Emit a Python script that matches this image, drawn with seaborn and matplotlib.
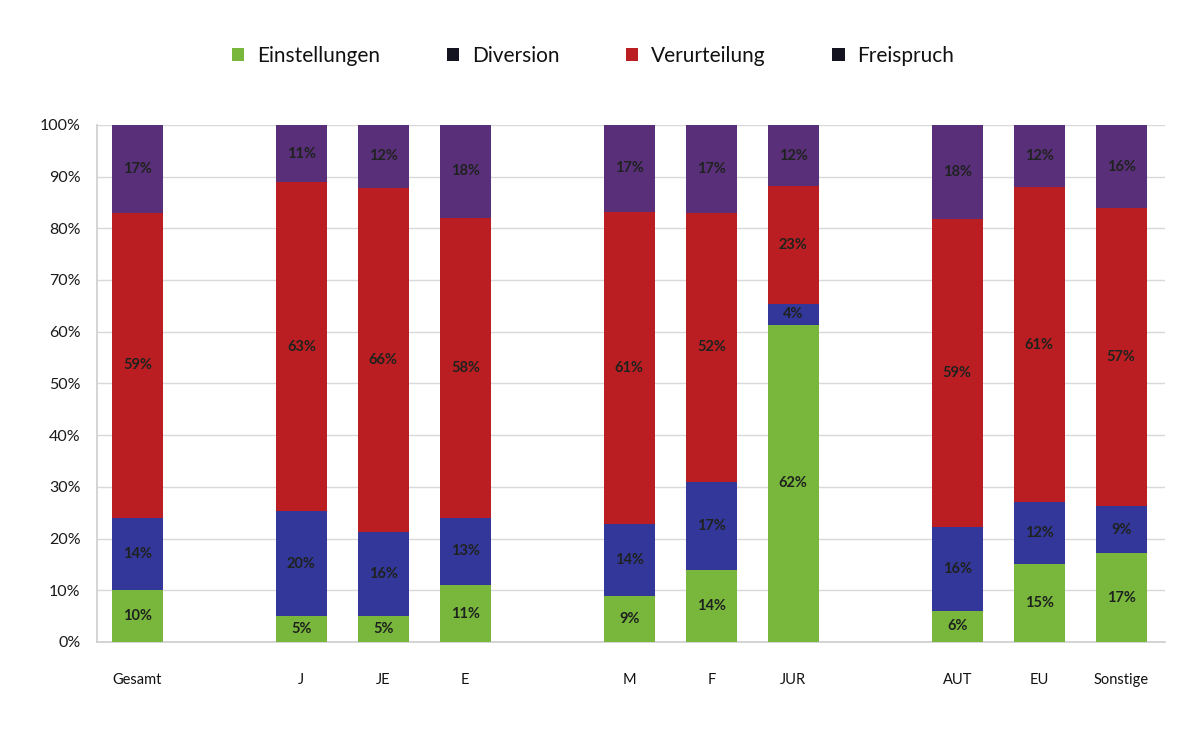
import numpy as np
import pandas as pd
import matplotlib
matplotlib.use("Agg")
import matplotlib.pyplot as plt
import seaborn as sns
from matplotlib.patches import Patch

# ---- data ----
categories = ["Gesamt", " ", "J", "JE", "E", "  ", "M", "F", "JUR", "   ", "AUT", "EU", "Sonstige"]
groups = ["Gesamt", "J", "JE", "E", "M", "F", "JUR", "AUT", "EU", "Sonstige"]
einstellungen = [10, 5, 5, 11, 9, 14, 62, 6, 15, 17]
diversion = [14, 20, 16, 13, 14, 17, 4, 16, 12, 9]
verurteilung = [59, 63, 66, 58, 61, 52, 23, 59, 61, 57]
freispruch = [17, 11, 12, 18, 17, 17, 12, 18, 12, 16]
series_names = ["Einstellungen", "Diversion", "Verurteilung", "Freispruch"]
tick_labels = ["0%", "10%", "20%", "30%", "40%", "50%", "60%", "70%", "80%", "90%", "100%"]

colors = ["#78b73c", "#34379a", "#bb1e22", "#5a2f7a"]
legend_colors = ["#78b73c", "#141420", "#bb1e22", "#141420"]

vals = np.array([einstellungen, diversion, verurteilung, freispruch], dtype=float)
shares = vals / vals.sum(axis=0) * 100
cum = np.cumsum(shares, axis=0)

df = pd.DataFrame({"cat": groups})
for i, name in enumerate(series_names):
    df[name] = shares[i]
    df[name + "_cum"] = cum[i]

sns.set_theme(style="white")
plt.rcParams["font.family"] = ["Lato", "DejaVu Sans"]

fig = plt.figure(figsize=(11.86, 7.43), dpi=100)
ax = fig.add_axes([0.082, 0.136, 0.900, 0.696])

for i in reversed(range(4)):
    sns.barplot(data=df, x="cat", y=series_names[i] + "_cum", order=categories,
                color=colors[i], width=0.62, saturation=1, ax=ax, zorder=3,
                edgecolor="none", linewidth=0)

# segment labels
xpos = {c: k for k, c in enumerate(categories)}
for j, g in enumerate(groups):
    for i in range(4):
        lo = cum[i, j] - shares[i, j]
        mid = lo + shares[i, j] / 2
        ax.text(xpos[g], mid, f"{int(vals[i, j])}%", ha="center", va="center",
                fontsize=10.5, color="#1e221e", fontweight="bold", zorder=5)

ax.set_ylim(0, 100)
ax.set_xlim(-0.49, 12.53)
ax.set_yticks(np.arange(0, 101, 10))
ax.set_yticklabels(tick_labels, fontsize=11.5, color="#1a1a1a")
ax.set_xticks(range(len(categories)))
ax.set_xticklabels(categories, fontsize=10.5, color="#111111")
ax.set_xlabel("")
ax.set_ylabel("")
ax.grid(axis="y", color="#d9d9d9", linewidth=1, zorder=0)
ax.set_axisbelow(True)
for s in ["top", "right"]:
    ax.spines[s].set_visible(False)
ax.spines["left"].set_color("#cfcfcf")
ax.spines["bottom"].set_color("#cfcfcf")
ax.tick_params(axis="y", length=4, color="#bbbbbb", pad=8)
ax.tick_params(axis="x", length=0, pad=22)

handles = [Patch(facecolor=legend_colors[i], edgecolor="none", label=series_names[i]) for i in range(4)]
fig.legend(handles=handles, loc="center", bbox_to_anchor=(0.5, 0.925), ncol=4,
           frameon=False, fontsize=15, handlelength=0.6, handleheight=0.6,
           handletextpad=0.6, columnspacing=3.2, labelcolor="#111111")

fig.savefig("out.png", dpi=100)
